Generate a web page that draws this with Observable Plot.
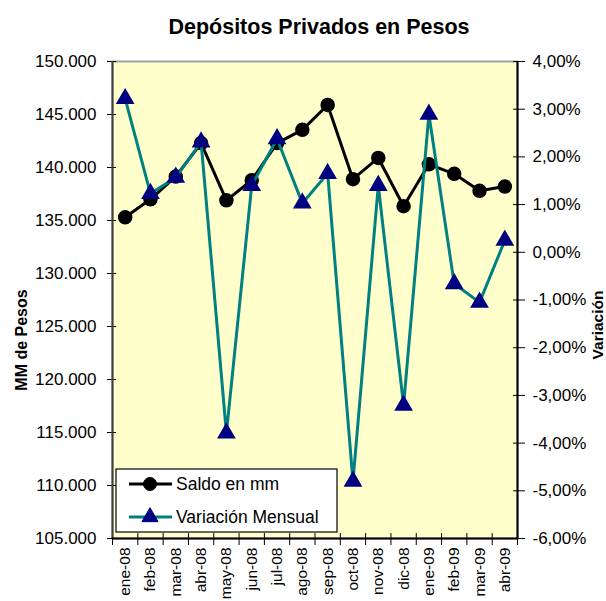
<!DOCTYPE html>
<html>
<head>
<meta charset="utf-8">
<script src="https://cdn.jsdelivr.net/npm/d3@7"></script>
<script src="https://cdn.jsdelivr.net/npm/@observablehq/plot@0.6"></script>
<style>
  body { margin: 0; background: #fff; }
  #wrap { position: relative; width: 606px; height: 601px; font-family: "Liberation Sans", Arial, sans-serif; }
  #wrap > svg { position: absolute; left: 0; top: 0; }
  #overlay { pointer-events: none; }
</style>
</head>
<body>
<div id="wrap"></div>
<script>
const months = ["ene-08","feb-08","mar-08","abr-08","may-08","jun-08","jul-08","ago-08","sep-08","oct-08","nov-08","dic-08","ene-09","feb-09","mar-09","abr-09"];
const saldo = [135300,137000,139150,142300,136900,138800,142300,143550,145900,138900,140900,136350,140300,139400,137800,138200];
const variacion = [3.22,1.23,1.57,2.31,-3.79,1.40,2.38,1.03,1.65,-4.80,1.40,-3.21,2.89,-0.66,-1.05,0.25];
const leftTicks = [105000,110000,115000,120000,125000,130000,135000,140000,145000,150000];
const rightTicks = [-6,-5,-4,-3,-2,-1,0,1,2,3,4];
const title = "Depósitos Privados en Pesos";
const leftTitle = "MM de Pesos";
const rightTitle = "Variación";
const seriesNames = ["Saldo en mm", "Variación Mensual"];

// secondary axis mapping (percent -> primary units)
const yMin = leftTicks[0], yMax = leftTicks[leftTicks.length - 1];
const pMin = rightTicks[0], pMax = rightTicks[rightTicks.length - 1];
const toLeft = v => yMin + (v - pMin) * (yMax - yMin) / (pMax - pMin);
const toPct = y => pMin + (y - yMin) * (pMax - pMin) / (yMax - yMin);

const data = months.map((m, i) => ({i: i + 0.5, m, saldo: saldo[i], v: toLeft(variacion[i])}));
const boundaries = d3.range(months.length + 1);
const centers = months.map((m, i) => i + 0.5);

const fmtLeft = d => d3.format(",")(d).replace(/,/g, ".");
const fmtPct = v => (Math.round(v * 100) / 100).toFixed(2).replace(".", ",") + "%";

const font = '"Liberation Sans", Arial, sans-serif';
const teal = "#008080", navy = "#000080";

const chart = Plot.plot({
  width: 606, height: 601,
  marginLeft: 112, marginRight: 89, marginTop: 61, marginBottom: 63,
  style: {fontFamily: font, fontSize: "17px", color: "#000", background: "transparent", overflow: "visible"},
  x: {domain: [0, months.length]},
  y: {domain: [yMin, yMax]},
  marks: [
    Plot.frame({fill: "#FFFFCC", stroke: "#a0a0a0", strokeWidth: 2}),
    Plot.axisY({ticks: leftTicks, tickSize: 5, tickPadding: 11, tickFormat: fmtLeft, label: null, stroke: "#000"}),
    Plot.axisY({ticks: leftTicks, tickSize: -4, tickFormat: () => "", label: null, stroke: "#000"}),
    Plot.axisY({anchor: "right", ticks: rightTicks.map(toLeft), tickSize: 7, tickPadding: 8, tickFormat: d => fmtPct(toPct(d)), label: null, textAnchor: "start"}),
    Plot.axisY({anchor: "right", ticks: rightTicks.map(toLeft), tickSize: -5, tickFormat: () => "", label: null}),
    Plot.axisX({ticks: boundaries, tickSize: 7, tickFormat: () => "", label: null}),
    Plot.axisX({ticks: boundaries, tickSize: -5, tickFormat: () => "", label: null}),
    Plot.axisX({ticks: centers, tickSize: 0, tickPadding: 9, tickRotate: -90, fontSize: 15.5, tickFormat: d => months[Math.floor(d)], label: null}),
    Plot.ruleX([0], {stroke: "#404040", strokeWidth: 2}),
    Plot.ruleX([months.length], {stroke: "#000", strokeWidth: 2}),
    Plot.ruleY([yMin], {stroke: "#000", strokeWidth: 2}),
    Plot.line(data, {x: "i", y: "saldo", stroke: "#000", strokeWidth: 3}),
    Plot.dot(data, {x: "i", y: "saldo", r: 6.5, fill: "#000", stroke: "#000"}),
    Plot.line(data, {x: "i", y: "v", stroke: teal, strokeWidth: 3}),
    Plot.dot(data, {x: "i", y: "v", symbol: "triangle", r: 6, fill: navy, stroke: navy})
  ]
});
document.getElementById("wrap").appendChild(chart);

// overlay: title, axis titles, legend
const svg = d3.select("#wrap").append("svg").attr("id", "overlay")
  .attr("width", 606).attr("height", 601).style("font-family", font);

svg.append("text").attr("x", 319).attr("y", 34).attr("text-anchor", "middle")
  .attr("font-weight", "bold").attr("font-size", 21.5).text(title);

svg.append("text").attr("transform", "translate(27,340) rotate(-90)").attr("text-anchor", "middle")
  .attr("font-weight", "bold").attr("font-size", 16).text(leftTitle);

svg.append("text").attr("transform", "translate(603,325) rotate(-90)").attr("text-anchor", "middle")
  .attr("font-weight", "bold").attr("font-size", 15.5).text(rightTitle);

const lg = svg.append("g");
lg.append("rect").attr("x", 116).attr("y", 469).attr("width", 221).attr("height", 63)
  .attr("fill", "#fff").attr("stroke", "#000").attr("stroke-width", 1.2);
const rows = [
  {name: seriesNames[0], y: 484, color: "#000", sym: d3.symbolCircle, size: Math.PI * 6.5 * 6.5, fill: "#000", w: 3},
  {name: seriesNames[1], y: 517, color: teal, sym: d3.symbolTriangle, size: Math.PI * 36, fill: navy, w: 3}
];
rows.forEach(r => {
  lg.append("line").attr("x1", 129).attr("x2", 172).attr("y1", r.y).attr("y2", r.y)
    .attr("stroke", r.color).attr("stroke-width", r.w);
  lg.append("path").attr("transform", `translate(150,${r.y})`).attr("d", d3.symbol(r.sym, r.size)())
    .attr("fill", r.fill).attr("stroke", r.fill);
  lg.append("text").attr("x", 176).attr("y", r.y + 6).attr("font-size", 17.5).text(r.name);
});
</script>
</body>
</html>
